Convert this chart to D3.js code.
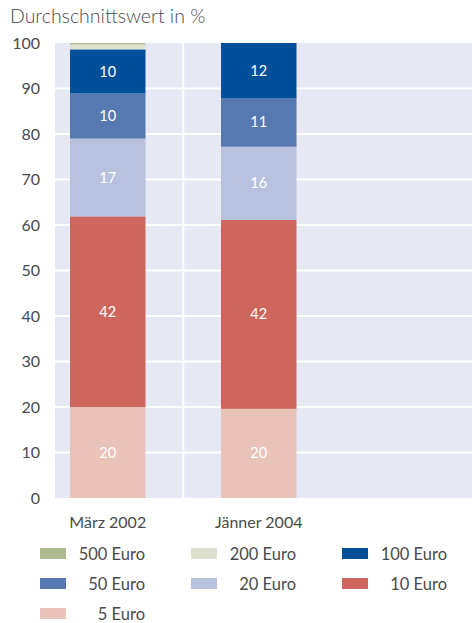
<!DOCTYPE html>
<meta charset="utf-8">
<script src="https://d3js.org/d3.v7.min.js"></script>
<style>
  body { margin: 0; background: #fff; }
  text { font-family: "Lato", "Open Sans", sans-serif; }
</style>
<body>
<div id="chart"></div>
<script>
  // data
  var categories = ["März 2002", "Jänner 2004"];
  var series = ["5 Euro", "10 Euro", "20 Euro", "50 Euro", "100 Euro", "200 Euro", "500 Euro"];
  var values2002 = [20, 41.9, 17.1, 9.9, 9.7, 1.1, 0.3];
  var values2004 = [19.6, 41.5, 16.1, 10.7, 12.1, 0, 0];
  var yTicks = [0, 10, 20, 30, 40, 50, 60, 70, 80, 90, 100];
  var legendOrder = ["500 Euro", "200 Euro", "100 Euro", "50 Euro", "20 Euro", "10 Euro", "5 Euro"];

  var colors = {
    "5 Euro": "#e9c2b8",
    "10 Euro": "#cf665d",
    "20 Euro": "#b8c2df",
    "50 Euro": "#5679b2",
    "100 Euro": "#004f98",
    "200 Euro": "#dde1cd",
    "500 Euro": "#adba8f"
  };

  var W = 472, H = 623;
  var margin = {top: 43, right: 0, bottom: 125, left: 55};
  var width = W - margin.left - margin.right,
      height = H - margin.top - margin.bottom;

  var svg = d3.select("#chart").append("svg")
      .attr("width", W)
      .attr("height", H);

  svg.append("text")
    .attr("x", 10)
    .attr("y", 23)
    .style("font-size", "19.5px")
    .style("font-weight", "300")
    .style("fill", "#4a4a4a")
    .text("Durchschnittswert in %");

  var g = svg.append("g")
    .attr("transform", "translate(" + margin.left + "," + margin.top + ")");

  var y = d3.scaleLinear().domain([0, 100]).range([height, 0]);
  // three slots, last one stays empty
  var x = d3.scaleBand().domain(categories.concat(["_"])).range([-22.75, 430.25]).paddingInner(0.5).paddingOuter(0.25);

  g.append("rect")
    .attr("width", width)
    .attr("height", height)
    .attr("fill", "#e6e9f3");

  // grid
  g.append("g").selectAll("line")
    .data(yTicks.slice(1, -1))
    .enter().append("line")
      .attr("x1", 0).attr("x2", width)
      .attr("y1", d => y(d)).attr("y2", d => y(d))
      .attr("stroke", "#fff")
      .attr("stroke-width", 2);

  var sep = (x(categories[0]) + x.bandwidth() + x(categories[1])) / 2;
  g.append("line")
    .attr("x1", sep).attr("x2", sep)
    .attr("y1", 0).attr("y2", height)
    .attr("stroke", "#fff")
    .attr("stroke-width", 2);

  // y axis labels
  var yAxis = g.append("g")
    .call(d3.axisLeft(y).tickValues(yTicks).tickSize(0).tickPadding(15));
  yAxis.select(".domain").remove();
  yAxis.selectAll("text")
    .style("font-size", "16px")
    .style("font-family", "Lato, sans-serif")
    .style("fill", "#4a4a4a");

  // stacked bars
  var rows = categories.map(function(c, i) {
    var row = {cat: c};
    var vals = i === 0 ? values2002 : values2004;
    series.forEach(function(s, j) { row[s] = vals[j]; });
    return row;
  });
  var stack = d3.stack().keys(series)(rows);

  var layer = g.append("g").selectAll("g")
    .data(stack)
    .enter().append("g")
      .attr("fill", d => colors[d.key]);

  layer.selectAll("rect")
    .data(d => d.map(p => ({key: d.key, p: p})))
    .enter().append("rect")
      .attr("x", d => x(d.p.data.cat))
      .attr("width", x.bandwidth())
      .attr("y", d => y(d.p[1]))
      .attr("height", d => y(d.p[0]) - y(d.p[1]));

  layer.selectAll("text")
    .data(d => d.map(p => ({key: d.key, p: p})).filter(d => d.p[1] - d.p[0] > 5))
    .enter().append("text")
      .attr("x", d => x(d.p.data.cat) + x.bandwidth() / 2)
      .attr("y", d => y((d.p[0] + d.p[1]) / 2))
      .attr("dy", "0.35em")
      .attr("text-anchor", "middle")
      .style("font-size", "14.5px")
      .style("fill", "#fff")
      .text(d => Math.round(d.p[1] - d.p[0]));

  // category labels
  g.append("g").selectAll("text")
    .data(categories)
    .enter().append("text")
      .attr("x", d => x(d) + x.bandwidth() / 2)
      .attr("y", height + 30)
      .attr("text-anchor", "middle")
      .style("font-size", "16px")
      .style("fill", "#4a4a4a")
      .text(d => d);

  // legend
  var legend = svg.append("g").selectAll("g")
    .data(legendOrder)
    .enter().append("g")
      .attr("transform", (d, i) => "translate(" + (40 + (i % 3) * 151) + "," + (548 + Math.floor(i / 3) * 30) + ")");

  legend.append("rect")
    .attr("width", 26)
    .attr("height", 11)
    .attr("fill", d => colors[d]);

  legend.append("text")
    .attr("x", 105)
    .attr("y", 6)
    .attr("dy", "0.35em")
    .attr("text-anchor", "end")
    .style("font-size", "16.5px")
    .style("fill", "#4a4a4a")
    .text(d => d);
</script>
</body>
